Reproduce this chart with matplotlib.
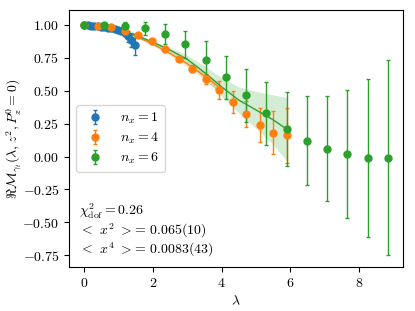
import numpy as np
import matplotlib
matplotlib.use("Agg")
from matplotlib import pyplot as plt

plt.rcParams['font.family'] = 'serif'
plt.rcParams['font.serif'] = ['cmr10']
plt.rcParams['mathtext.fontset'] = 'cm'
plt.rcParams['axes.formatter.use_mathtext'] = True
plt.rcParams['font.size'] = 10

# lattice data: lambda = k * n_x * 0.0982, k = 0..15
k = np.arange(16)
STEP = 0.0982

m_n1 = [1.0, 0.999, 0.997, 0.995, 0.992, 0.988, 0.985, 0.98, 0.975, 0.97,
        0.965, 0.955, 0.94, 0.915, 0.885, 0.85]
e_n1 = [0.001, 0.001, 0.002, 0.002, 0.003, 0.003, 0.004, 0.005, 0.006, 0.008,
        0.01, 0.015, 0.025, 0.04, 0.055, 0.08]

m_n4 = [1.0, 0.995, 0.982, 0.957, 0.926, 0.878, 0.819, 0.746, 0.669, 0.59,
        0.506, 0.416, 0.322, 0.241, 0.183, 0.162]
e_n4 = [0.001, 0.002, 0.004, 0.006, 0.008, 0.01, 0.013, 0.018, 0.025, 0.038,
        0.066, 0.084, 0.10, 0.13, 0.16, 0.21]

m_n6 = [1.0, 1.0, 0.995, 0.977, 0.934, 0.853, 0.735, 0.602, 0.465, 0.33,
        0.21, 0.119, 0.061, 0.018, -0.011, -0.008]
e_n6 = [0.001, 0.008, 0.025, 0.05, 0.074, 0.1, 0.143, 0.166, 0.20, 0.24,
        0.284, 0.338, 0.40, 0.485, 0.60, 0.74]

# fit curves
fit1_x = [0.0, 0.49, 0.98]
fit1_y = [1.0, 0.988, 0.965]
fit1_lo = [1.0, 0.986, 0.96]
fit1_hi = [1.0, 0.99, 0.97]

fit4_x = [0.0, 0.5, 1.0, 1.5, 2.0, 2.5, 3.0, 3.5, 3.93]
fit4_y = [1.0, 0.99, 0.962, 0.915, 0.855, 0.785, 0.705, 0.615, 0.525]
fit4_lo = [1.0, 0.988, 0.957, 0.907, 0.843, 0.768, 0.682, 0.587, 0.49]
fit4_hi = [1.0, 0.992, 0.967, 0.923, 0.867, 0.802, 0.728, 0.643, 0.56]

fit6_x = [0.0, 0.5, 1.0, 1.5, 2.0, 2.5, 3.0, 3.5, 4.0, 4.5, 5.0, 5.5, 5.89]
fit6_y = [1.0, 0.99, 0.965, 0.925, 0.87, 0.81, 0.74, 0.64, 0.53, 0.43,
          0.355, 0.28, 0.21]
fit6_lo = [1.0, 0.988, 0.96, 0.918, 0.86, 0.79, 0.71, 0.59, 0.46, 0.33,
           0.215, 0.09, -0.03]
fit6_hi = [1.0, 0.992, 0.97, 0.932, 0.88, 0.83, 0.77, 0.69, 0.60, 0.53,
           0.495, 0.47, 0.45]

labels = [r"$n_x = 1$", r"$n_x = 4$", r"$n_x = 6$"]
nxs = [1, 4, 6]
means = [m_n1, m_n4, m_n6]
errs = [e_n1, e_n4, e_n6]
fits = [(fit1_x, fit1_y, fit1_lo, fit1_hi),
        (fit4_x, fit4_y, fit4_lo, fit4_hi),
        (fit6_x, fit6_y, fit6_lo, fit6_hi)]

fit_text = [r"$\chi^2_{\rm dof} = 0.26$",
            r"$<$ $x^2$ $>$= 0.065(10)",
            r"$<$ $x^4$ $>$= 0.0083(43)"]

fig = plt.figure(figsize=(4.15, 3.11), dpi=100)
ax = fig.add_axes([69 / 415, 1 - 267 / 311, 334 / 415, 257 / 311])

for i in range(3):
    c = "C%d" % i
    lam = k * nxs[i] * STEP
    ax.errorbar(lam, means[i], yerr=errs[i], fmt="o", color=c, ms=5,
                capsize=1.5, elinewidth=1, label=labels[i])

for i in range(3):
    c = "C%d" % i
    fx, fy, flo, fhi = fits[i]
    ax.plot(fx, fy, color=c, lw=1)
    ax.fill_between(fx, flo, fhi, color=c, alpha=0.2, lw=0)

ax.set_xlabel(r"$\lambda$")
ax.set_ylabel(r"$\Re\mathcal{M}_{\gamma_t}(\lambda, z^2, P_z^0=0)$")
ax.yaxis.set_label_coords(-0.135, 0.5)
ax.set_xticks([0, 2, 4, 6, 8])
ax.set_yticks([-0.75, -0.5, -0.25, 0.0, 0.25, 0.5, 0.75, 1.0])
ax.set_ylim(-0.84, 1.115)
ax.legend(loc="center left", labelspacing=0.35)

for j, s in enumerate(fit_text):
    ax.text(0.03, 0.202 - 0.075 * j, s, transform=ax.transAxes,
            va="baseline", ha="left")

fig.savefig("out.png", dpi=100)
